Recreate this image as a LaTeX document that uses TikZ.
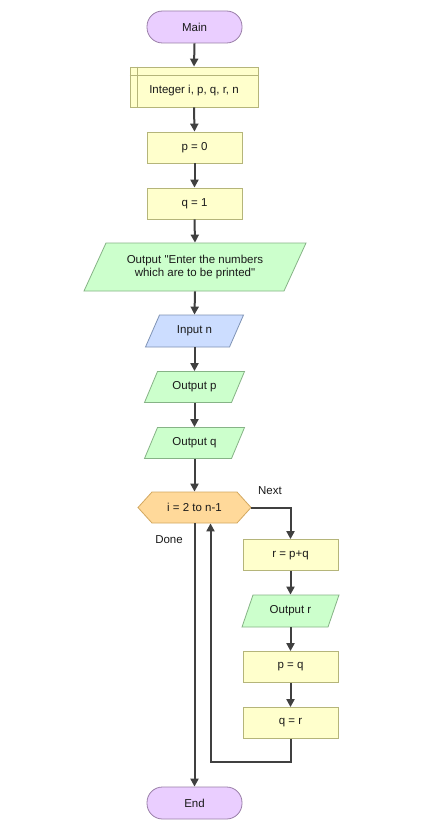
\documentclass[tikz,border=0pt]{standalone}
\usepackage{fontspec}
\setmainfont{Liberation Sans}[Ligatures=TeXOff]
\usetikzlibrary{arrows.meta,calc}
\definecolor{termF}{HTML}{EACEFF}
\definecolor{termB}{HTML}{9A7FA8}
\definecolor{procF}{HTML}{FFFFCC}
\definecolor{procB}{HTML}{B5B57A}
\definecolor{outF}{HTML}{CCFFCC}
\definecolor{outB}{HTML}{86B386}
\definecolor{inF}{HTML}{CCDDFF}
\definecolor{inB}{HTML}{7F93B5}
\definecolor{hexF}{HTML}{FFD99A}
\definecolor{hexB}{HTML}{D2A860}
\definecolor{arrC}{HTML}{404040}
\definecolor{txt}{HTML}{1A1A1A}
\tikzset{
  base/.style={font=\fontsize{11.5}{13.5}\selectfont, text=txt, inner sep=0pt, align=center, line width=0.8pt},
  term/.style={base, draw=termB, fill=termF, rounded corners=15.5pt, minimum width=95pt, minimum height=32pt},
  proc/.style={base, draw=procB, fill=procF, minimum width=95pt, minimum height=31pt},
  outshape/.style={draw=outB, fill=outF, line width=0.8pt},
  inshape/.style={draw=inB, fill=inF, line width=0.8pt},
  arr/.style={draw=arrC, line width=2pt, -{Triangle[length=8pt,width=8pt]}},
  lbl/.style={font=\fontsize{11.5}{13.5}\selectfont, text=txt, inner sep=0pt}
}
\newcommand{\pgram}[8]{%
  \path[#7] (#2-#4/2+#6/2, #3-#5/2) -- (#2+#4/2+#6/2, #3-#5/2) -- (#2+#4/2-#6/2, #3+#5/2) -- (#2-#4/2-#6/2, #3+#5/2) -- cycle;
  \node[base, minimum width=#4pt, minimum height=#5pt] (#1) at (#2,#3) {#8};
}
\begin{document}
\begin{tikzpicture}[x=1pt,y=-1pt]
\useasboundingbox[fill=white] (0,0) rectangle (423,832);
% nodes
\node[term] (main) at (194.5,27) {Main};
\node[proc, minimum width=128pt, minimum height=40pt, text depth=0pt] (decl) at (194,87) {\raisebox{-4pt}{Integer i, p, q, r, n}};
\draw[procB, line width=0.8pt] (decl.north west |- 0,75) -- (decl.north east |- 0,75);
\draw[procB, line width=0.8pt] (137,0 |- decl.north) -- (137,0 |- decl.south);
\node[proc] (p0) at (194.5,147.5) {p = 0};
\node[proc] (q1) at (194.5,203.5) {q = 1};
\pgram{out1}{195}{267}{200}{48}{22}{outshape}{Output "Enter the numbers\\which are to be printed"}
\pgram{inp}{194.5}{331}{84}{32}{14}{inshape}{Input n}
\pgram{outp}{194.5}{387}{87}{31}{13}{outshape}{Output p}
\pgram{outq}{194.5}{443}{87}{31}{13}{outshape}{Output q}
\path[draw=hexB, fill=hexF, line width=0.8pt] (138,507.5) -- (152,492) -- (237,492) -- (251,507.5) -- (237,523) -- (152,523) -- cycle;
\node[base, minimum width=113pt, minimum height=31pt] (hex) at (194.5,507.5) {i = 2 to n-1};
\node[proc] (r) at (290.5,555) {r = p+q};
\pgram{outr}{290.5}{611}{86}{32}{11}{outshape}{Output r}
\node[proc] (pq) at (290.5,667) {p = q};
\node[proc] (qr) at (290.5,723) {q = r};
\node[term] (endn) at (194.5,803) {End};
\node[lbl] (next) at (270,491) {Next};
\node[lbl] (done) at (169,540) {Done};
\coordinate (loopc) at (210.5,762);
% connectors
\draw[arr] (main.south) -- (decl.north);
\draw[arr] (decl.south) -- (p0.north);
\draw[arr] (p0.south) -- (q1.north);
\draw[arr] (q1.south) -- (out1.north);
\draw[arr] (out1.south) -- (inp.north);
\draw[arr] (inp.south) -- (outp.north);
\draw[arr] (outp.south) -- (outq.north);
\draw[arr] (outq.south) -- (hex.north);
\draw[arr] (hex.east) -| (r.north);
\draw[arr] (r.south) -- (outr.north);
\draw[arr] (outr.south) -- (pq.north);
\draw[arr] (pq.south) -- (qr.north);
\draw[arr] (qr.south) -- (qr.south |- loopc) -- (loopc) -- (loopc |- hex.south);
\draw[arr] (hex.south) -- (endn.north);
\end{tikzpicture}
\end{document}
